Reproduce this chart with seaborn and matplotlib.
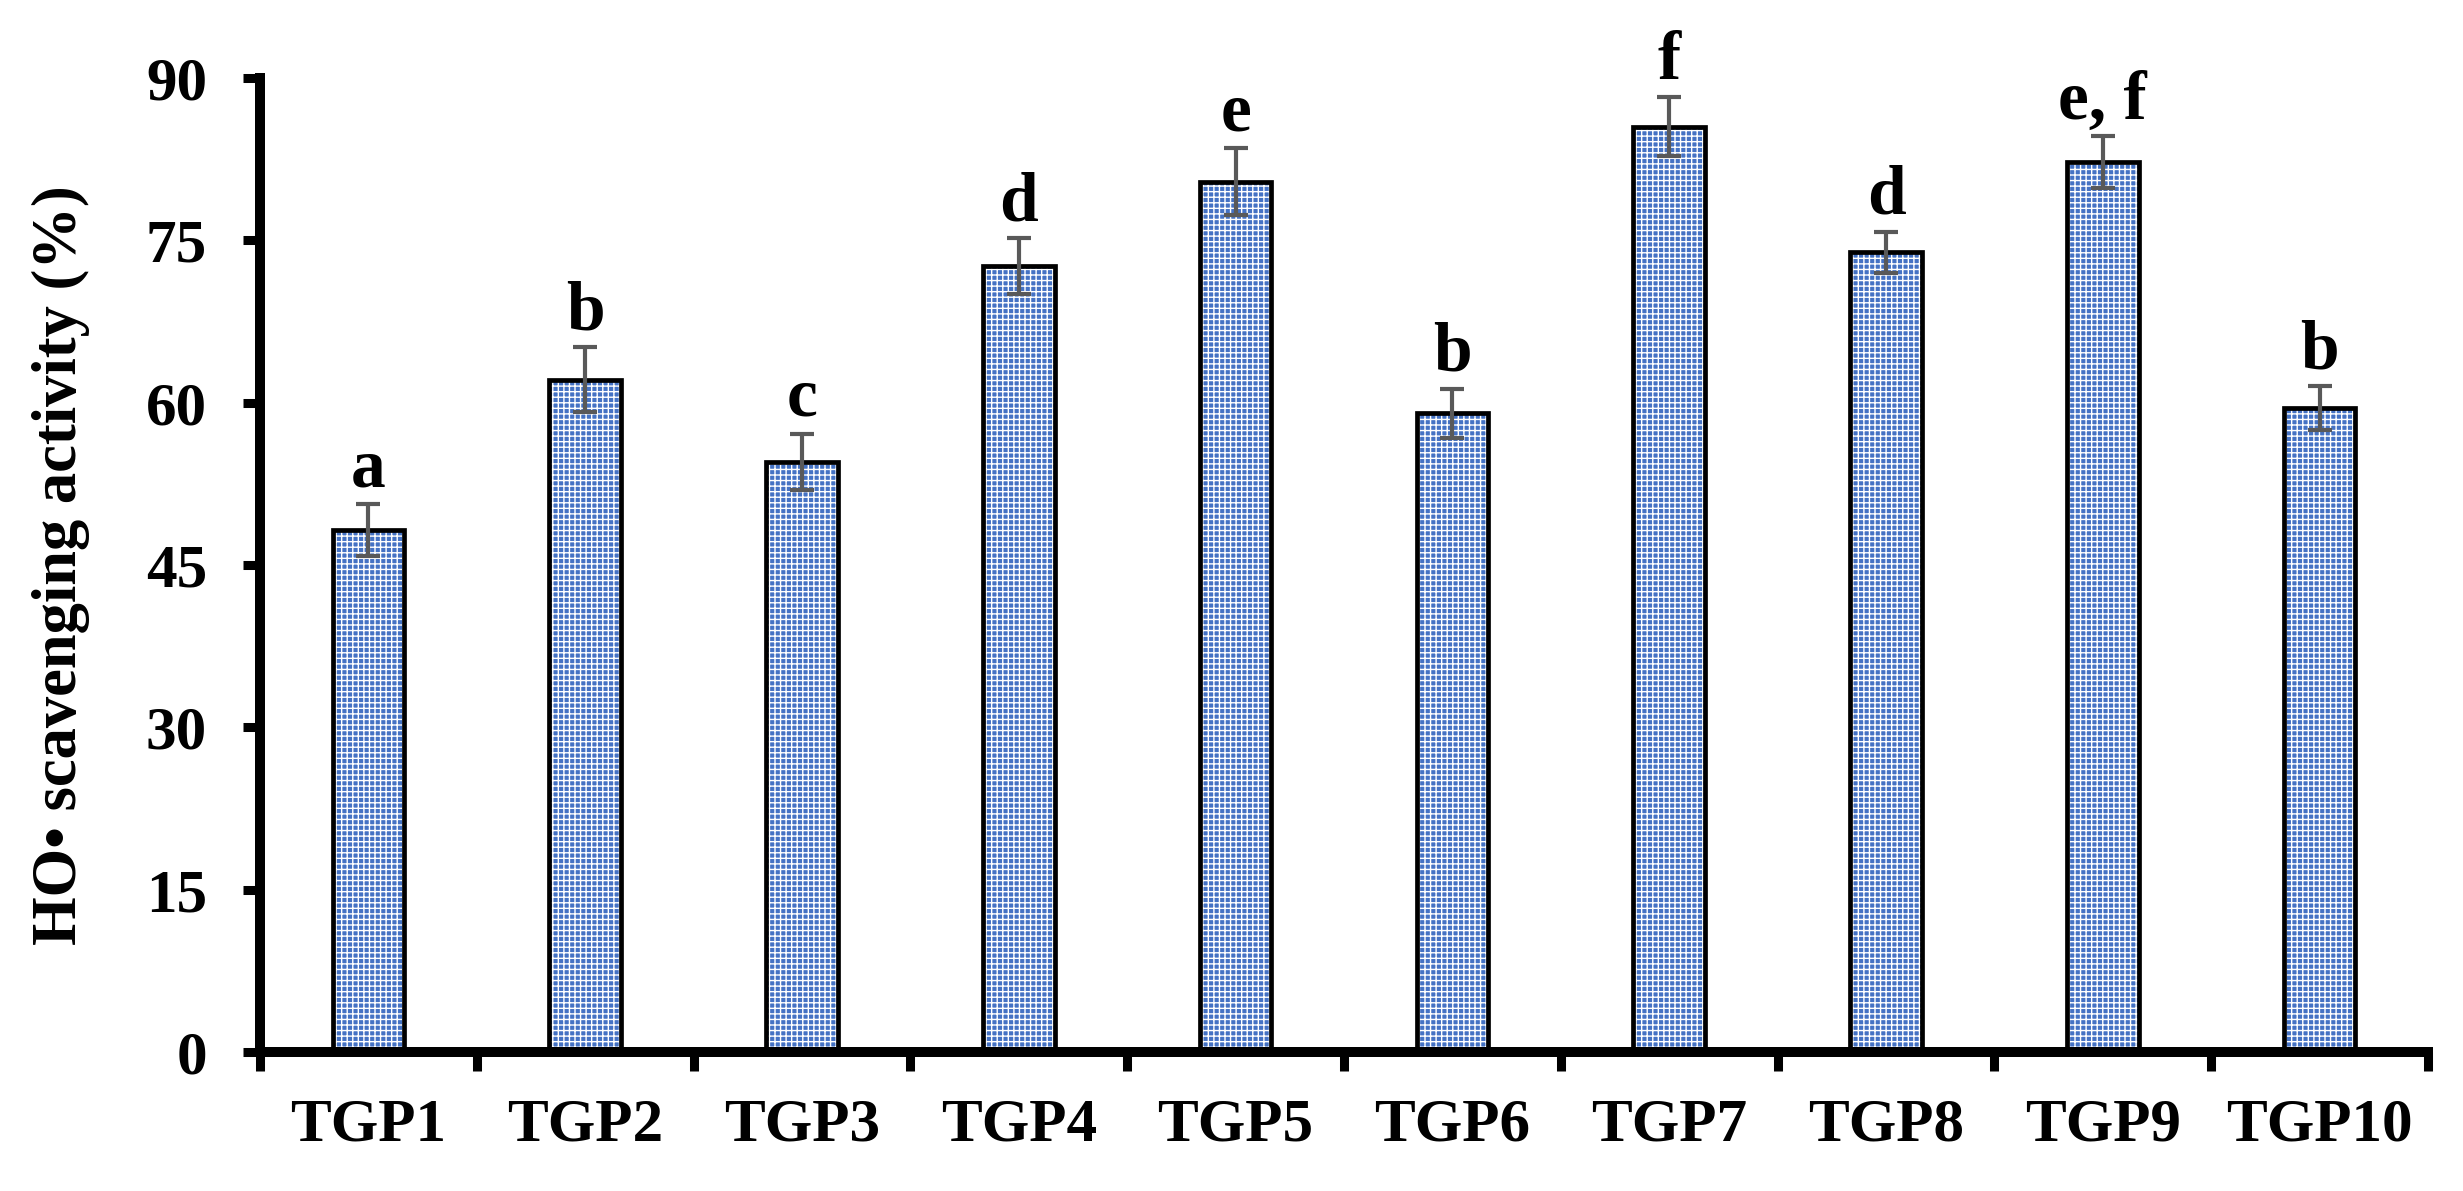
import numpy as np
import pandas as pd
import matplotlib
matplotlib.use("Agg")
import matplotlib.pyplot as plt
from matplotlib.patches import Rectangle
import seaborn as sns

# ---- data ----
categories = ["TGP1", "TGP2", "TGP3", "TGP4", "TGP5", "TGP6", "TGP7", "TGP8", "TGP9", "TGP10"]
values = [48.2, 62.1, 54.5, 72.6, 80.4, 59.0, 85.5, 73.9, 82.2, 59.5]
errors = [2.4, 3.0, 2.6, 2.6, 3.1, 2.3, 2.7, 1.9, 2.4, 2.0]
letters = ["a", "b", "c", "d", "e", "b", "f", "d", "e, f", "b"]
yticks = [0, 15, 30, 45, 60, 75, 90]

sns.set_style("white")
plt.rcParams["font.family"] = ["Liberation Serif", "DejaVu Serif"]
plt.rcParams["font.weight"] = "bold"
plt.rcParams["hatch.linewidth"] = 1.0
for k in ["text.color", "axes.labelcolor", "xtick.color", "ytick.color"]:
    plt.rcParams[k] = "black"

df = pd.DataFrame({"cat": categories, "val": values})

fig = plt.figure(figsize=(24.63, 11.91), dpi=100)
ax = fig.add_axes([260 / 2463, 1 - 1052 / 1191, 2168 / 2463, (1052 - 78) / 1191])

sns.barplot(data=df, x="cat", y="val", ax=ax, color="#4472C4", saturation=1,
            edgecolor="white", linewidth=0, hatch="+++", width=0.33, zorder=2)

for p in list(ax.patches):
    ax.add_patch(Rectangle(p.get_xy(), p.get_width(), p.get_height(), fill=False,
                           edgecolor="black", linewidth=3.4, zorder=2.5))

xs = np.arange(len(categories))
ax.errorbar(xs, values, yerr=errors, fmt="none", ecolor="#595959", elinewidth=3,
            capsize=8.3, capthick=3, zorder=3)

for x, v, e, t in zip(xs, values, errors, letters):
    ax.annotate(t, (x, v + e), xytext=(0, 13), textcoords="offset points",
                ha="center", va="baseline", fontsize=50, fontweight="bold",
                color="black", zorder=4)

ax.set_xlim(-0.5, len(categories) - 0.5)
ax.set_ylim(0, 90)
ax.set_yticks(yticks)
ax.set_yticklabels([str(t) for t in yticks], fontsize=44, fontweight="bold")
ax.set_xticks(xs)
ax.set_xticklabels(categories, fontsize=44, fontweight="bold")
ax.set_xticks(np.arange(-0.5, len(categories), 1), minor=True)
ax.tick_params(axis="x", which="major", bottom=True, length=0, pad=33)
ax.tick_params(axis="x", which="minor", bottom=True, length=14, width=6.5,
               direction="out", color="black")
ax.tick_params(axis="y", which="major", left=True, length=12, width=6.5,
               direction="out", color="black", pad=26)

ax.set_xlabel("")
ax.set_ylabel("HO• scavenging activity (%)", fontsize=45, fontweight="bold",
              labelpad=40, color="black")

for s in ["top", "right"]:
    ax.spines[s].set_visible(False)
for s in ["left", "bottom"]:
    ax.spines[s].set_linewidth(7.2)
    ax.spines[s].set_color("black")

fig.savefig("out.png", dpi=100, facecolor="white")
